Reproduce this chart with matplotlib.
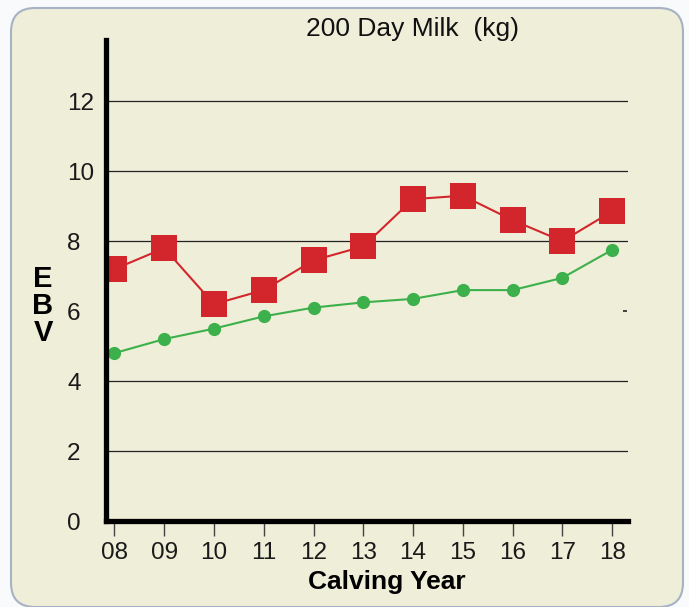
import matplotlib
matplotlib.use("Agg")
import matplotlib.pyplot as plt
from matplotlib.patches import FancyBboxPatch

years = ["08", "09", "10", "11", "12", "13", "14", "15", "16", "17", "18"]
red_values = [7.2, 7.8, 6.2, 6.6, 7.45, 7.85, 9.2, 9.3, 8.6, 8.0, 8.85]
green_values = [4.8, 5.2, 5.5, 5.85, 6.1, 6.25, 6.35, 6.6, 6.6, 6.95, 7.75]
y_ticks = [0, 2, 4, 6, 8, 10, 12]
grid_levels = [2, 4, 8, 10, 12]

plt.rcParams['font.family'] = ['Liberation Sans', 'DejaVu Sans']

W, H = 689, 607
fig = plt.figure(figsize=(W / 100, H / 100), dpi=100)
fig.patch.set_facecolor('#f8fafb')

box = FancyBboxPatch((11 / W, 0 / H), (683 - 11) / W, (599 - 0) / H,
                     boxstyle="round,pad=0,rounding_size=0.035",
                     transform=fig.transFigure, facecolor='#efeed9',
                     edgecolor='#a7b2c4', linewidth=1.5, zorder=-5,
                     mutation_aspect=W / H)
fig.patches.append(box)

ax = fig.add_axes([106 / W, 1 - 521 / H, (628 - 106) / W, (521 - 40) / H])
ax.set_facecolor('none')
ax.set_zorder(2)

x = list(range(len(years)))
ax.set_xlim(-0.17, 10.32)
ax.set_ylim(0, 13.75)

for g in grid_levels:
    ax.axhline(g, color='#222222', linewidth=0.9, zorder=1)
ax.hlines(6, 10.22, 10.3, color='#222222', linewidth=1.2, zorder=1)

ax.plot(x, green_values, color='#3cb04a', linewidth=1.5, marker='o',
        markersize=9.5, markeredgewidth=0, zorder=3)
ax.plot(x, red_values, color='#d3252c', linewidth=1.5, marker='s',
        markersize=18.5, markeredgewidth=0, zorder=4)

for s in ['top', 'right']:
    ax.spines[s].set_visible(False)
for s in ['left', 'bottom']:
    ax.spines[s].set_linewidth(3.8)
    ax.spines[s].set_color('black')
    ax.spines[s].set_zorder(5)

ax.set_xticks(x)
ax.set_xticklabels(years, fontsize=17.5, color='#1a1a1a')
ax.tick_params(axis='x', length=11, width=1, color='#444444', pad=4, direction='out')
ax.set_yticks(y_ticks)
ax.set_yticklabels([str(v) for v in y_ticks], fontsize=17.5, color='#1a1a1a',
                   ha='left')
ax.tick_params(axis='y', length=0, pad=28)

ax.set_xlabel("Calving Year", fontsize=19, fontweight='bold')
ax.xaxis.set_label_coords((387 - 106) / 522, -(582 - 521) / 481)
ax.xaxis.label.set_va('center')
fig.text(412 / W, 1 - 29 / H, "200 Day Milk  (kg)", fontsize=19,
         ha='center', va='center', color='#111111')
fig.text(43 / W, 1 - 306 / H, "E\nB\nV", fontsize=21, fontweight='bold',
         ha='center', va='center', linespacing=0.97)

fig.savefig("out.png", dpi=100, facecolor=fig.get_facecolor())
